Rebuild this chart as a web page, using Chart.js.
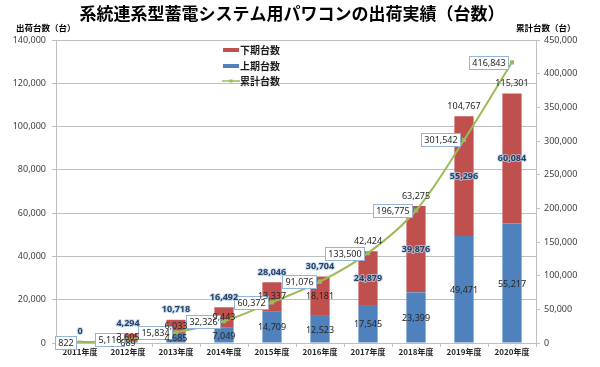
<!DOCTYPE html>
<html>
<head>
<meta charset="utf-8">
<script src="https://cdn.jsdelivr.net/npm/chart.js@4"></script>
<style>
html,body{margin:0;padding:0;background:#fff;}
canvas{display:block;}
</style>
</head>
<body>
<canvas id="c" width="600" height="367"></canvas>
<script>
// ---- data ----
const years = ['2011年度','2012年度','2013年度','2014年度','2015年度','2016年度','2017年度','2018年度','2019年度','2020年度'];
const firstHalf  = [822, 689, 4685, 7049, 14709, 12523, 17545, 23399, 49471, 55217];   // 上期台数
const secondHalf = [0, 3605, 6033, 9443, 13337, 18181, 24879, 39876, 55296, 60084];    // 下期台数
const cumulative = [822, 5116, 15834, 32326, 60372, 91076, 133500, 196775, 301542, 416843]; // 累計台数
const leftTicks  = [0, 20000, 40000, 60000, 80000, 100000, 120000, 140000];
const rightTicks = [0, 50000, 100000, 150000, 200000, 250000, 300000, 350000, 400000, 450000];

const titleText = '系統連系型蓄電システム用パワコンの出荷実績（台数）';
const leftTitle = '出荷台数（台）';
const rightTitle = '累計台数（台）';

const RED = '#C0504D', BLUE = '#4F81BD', GREEN = '#9BBB59';
const JP = '"Noto Sans CJK JP", "Noto Sans", sans-serif';
const NUM = '"Noto Sans", "DejaVu Sans", sans-serif';
const fmt = v => v.toLocaleString('en-US');

function glowText(ctx, t, x, y) {
  ctx.font = 'bold 9px ' + NUM;
  ctx.lineJoin = 'round';
  ctx.lineWidth = 2;
  ctx.strokeStyle = 'rgba(185,210,240,0.75)';
  ctx.strokeText(t, x, y);
  ctx.fillStyle = '#243F60';
  ctx.fillText(t, x, y);
}
function plainText(ctx, t, x, y) {
  ctx.font = '9px ' + NUM;
  ctx.fillStyle = '#262626';
  ctx.fillText(t, x, y);
}

const decorPlugin = {
  id: 'decor',
  afterDatasetsDraw(chart) {
    const ctx = chart.ctx;
    const mBlue = chart.getDatasetMeta(0);
    const mRed = chart.getDatasetMeta(1);
    const mLine = chart.getDatasetMeta(2);
    ctx.save();
    ctx.textAlign = 'center';
    ctx.textBaseline = 'middle';
    // cumulative boxes
    ctx.font = '9px ' + NUM;
    mLine.data.forEach((pt, i) => {
      const t = fmt(cumulative[i]);
      const w = Math.round(ctx.measureText(t).width + 6);
      const h = 13;
      const x = Math.round(pt.x - 4 - w);
      const y = Math.round(pt.y - h / 2);
      ctx.fillStyle = '#fff';
      ctx.fillRect(x, y, w, h);
      ctx.strokeStyle = '#95B3D7';
      ctx.lineWidth = 1;
      ctx.strokeRect(x + 0.5, y + 0.5, w, h);
      ctx.font = '9px ' + NUM;
      ctx.fillStyle = '#262626';
      ctx.fillText(t, x + w / 2 + 0.5, y + h / 2 + 1);
    });
    // bar labels
    mBlue.data.forEach((b, i) => {
      const r = mRed.data[i];
      const top = r.y;
      if (secondHalf[i] > 0) {
        plainText(ctx, fmt(firstHalf[i]), b.x, (b.y + b.base) / 2 + 1);
        const rt = fmt(secondHalf[i]);
        if (i >= 6) glowText(ctx, rt, r.x, (r.y + r.base) / 2); else plainText(ctx, rt, r.x, (r.y + r.base) / 2);
        const tt = fmt(firstHalf[i] + secondHalf[i]);
        if (i <= 5) glowText(ctx, tt, r.x, top - 10); else plainText(ctx, tt, r.x, top - 10);
      } else {
        glowText(ctx, fmt(secondHalf[i]), r.x, Math.min(top, b.y) - 10);
      }
    });
    ctx.restore();
  },
  afterDraw(chart) {
    const ctx = chart.ctx;
    ctx.save();
    ctx.textBaseline = 'middle';
    // title
    ctx.textAlign = 'center';
    ctx.fillStyle = '#000';
    ctx.font = 'bold 17px ' + JP;
    ctx.fillText(titleText, 292, 14);
    // axis titles
    ctx.font = 'bold 8.5px ' + JP;
    ctx.textAlign = 'left';
    ctx.fillText(leftTitle, 16, 28);
    ctx.fillText(rightTitle, 516, 28);
    // legend
    const items = [
      {label: '下期台数', color: RED, y: 50, type: 'bar'},
      {label: '上期台数', color: BLUE, y: 66, type: 'bar'},
      {label: '累計台数', color: GREEN, y: 81, type: 'line'}
    ];
    items.forEach(it => {
      ctx.strokeStyle = it.color;
      ctx.beginPath();
      if (it.type === 'bar') {
        ctx.lineWidth = 4;
        ctx.moveTo(223, it.y); ctx.lineTo(239, it.y);
        ctx.stroke();
      } else {
        ctx.lineWidth = 1.5;
        ctx.moveTo(222, it.y); ctx.lineTo(240, it.y);
        ctx.stroke();
        ctx.fillStyle = it.color;
        ctx.fillRect(229.5, it.y - 1.5, 3, 3);
      }
      ctx.fillStyle = '#1a1a1a';
      ctx.font = 'bold 10px ' + JP;
      ctx.fillText(it.label, 240, it.y + 0.5);
    });
    ctx.restore();
  }
};

new Chart(document.getElementById('c'), {
  data: {
    labels: years,
    datasets: [
      {type: 'bar', label: '上期台数', data: firstHalf, backgroundColor: BLUE, yAxisID: 'y', stack: 's', order: 2,
        categoryPercentage: 1, barPercentage: 0.4},
      {type: 'bar', label: '下期台数', data: secondHalf, backgroundColor: RED, yAxisID: 'y', stack: 's', order: 2,
        categoryPercentage: 1, barPercentage: 0.4},
      {type: 'line', label: '累計台数', data: cumulative, borderColor: GREEN, backgroundColor: GREEN, yAxisID: 'y1',
        borderWidth: 2, tension: 0.35, pointRadius: 1.5, pointStyle: 'rect', fill: false, order: 0}
    ]
  },
  options: {
    responsive: false,
    animation: false,
    devicePixelRatio: 1,
    layout: {padding: {top: 40, left: 0, right: 0, bottom: 0}},
    plugins: {legend: {display: false}, tooltip: {enabled: false}, title: {display: false}},
    scales: {
      x: {
        stacked: true,
        grid: {offset: true, drawOnChartArea: false, tickLength: 4, color: '#BFBFBF'},
        border: {color: '#BFBFBF'},
        ticks: {font: {family: JP, size: 8, weight: 'bold'}, color: '#262626', padding: 0, maxRotation: 0, autoSkip: false},
        afterFit: s => { s.height = 24; }
      },
      y: {
        stacked: true,
        position: 'left',
        min: leftTicks[0], max: leftTicks[leftTicks.length - 1],
        afterBuildTicks: s => { s.ticks = leftTicks.map(v => ({value: v})); },
        grid: {color: '#BFBFBF', tickLength: 4},
        border: {color: '#BFBFBF'},
        ticks: {font: {family: NUM, size: 9}, color: '#404040', padding: 6, callback: v => fmt(v)},
        afterFit: s => { s.width = 56; }
      },
      y1: {
        position: 'right',
        min: rightTicks[0], max: rightTicks[rightTicks.length - 1],
        afterBuildTicks: s => { s.ticks = rightTicks.map(v => ({value: v})); },
        grid: {drawOnChartArea: false, tickLength: 4, color: '#BFBFBF'},
        border: {color: '#BFBFBF'},
        ticks: {font: {family: NUM, size: 9}, color: '#404040', padding: 4, callback: v => fmt(v)},
        afterFit: s => { s.width = 64; }
      }
    }
  },
  plugins: [decorPlugin]
});
</script>
</body>
</html>
